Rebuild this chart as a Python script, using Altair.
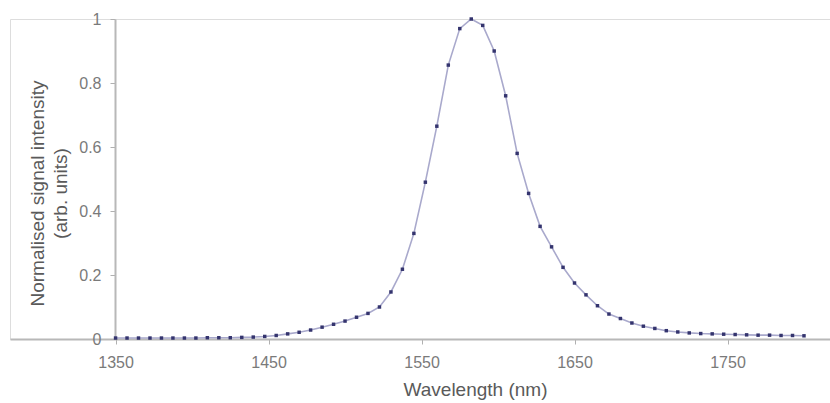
import altair as alt
import pandas as pd

wavelength = [1350, 1357.5, 1365, 1372.5, 1380, 1387.5, 1395, 1402.5, 1410, 1417.5,
              1425, 1432.5, 1440, 1447.5, 1455, 1462.5, 1470, 1477.5, 1485, 1492.5,
              1500, 1507.5, 1515, 1522.5, 1530, 1537.5, 1545, 1552.5, 1560, 1567.5,
              1575, 1582.5, 1590, 1597.5, 1605, 1612.5, 1620, 1627.5, 1635, 1642.5,
              1650, 1657.5, 1665, 1672.5, 1680, 1687.5, 1695, 1702.5, 1710, 1717.5,
              1725, 1732.5, 1740, 1747.5, 1755, 1762.5, 1770, 1777.5, 1785, 1792.5, 1800]
intensity = [0.003, 0.003, 0.003, 0.003, 0.003, 0.003, 0.003, 0.003, 0.004, 0.004,
             0.004, 0.005, 0.006, 0.008, 0.011, 0.016, 0.021, 0.028, 0.037, 0.046,
             0.056, 0.068, 0.080, 0.100, 0.147, 0.218, 0.330, 0.490, 0.665, 0.856,
             0.970, 1.000, 0.980, 0.900, 0.760, 0.580, 0.455, 0.352, 0.288, 0.224,
             0.175, 0.138, 0.104, 0.078, 0.064, 0.050, 0.040, 0.033, 0.026, 0.022,
             0.019, 0.017, 0.016, 0.015, 0.014, 0.013, 0.012, 0.012, 0.011, 0.011, 0.010]
x_ticks = [1350, 1450, 1550, 1650, 1750]
y_ticks = [0, 0.2, 0.4, 0.6, 0.8, 1]

df = pd.DataFrame({"wl": wavelength, "val": intensity})

FONT = "Liberation Sans"

x_enc = alt.X("wl:Q",
              scale=alt.Scale(domain=[1281, 1817], nice=False, zero=False),
              axis=alt.Axis(values=x_ticks, format="d", title="Wavelength (nm)",
                            grid=False, domainColor="#b8b8b8", domainWidth=2,
                            tickColor="#b0b0b0", tickSize=5, labelPadding=10,
                            labelFont=FONT, labelFontSize=16, labelColor="#7a7a7a",
                            titleFont=FONT, titleFontSize=19, titleFontWeight="normal",
                            titleColor="#5a5a5a", titleX=465, titleY=50,
                            titleBaseline="middle", titleAnchor="start", titleAlign="center"))
y_enc = alt.Y("val:Q",
              scale=alt.Scale(domain=[0, 1], nice=False),
              axis=alt.Axis(values=y_ticks, format=".1~f",
                            title=["Normalised signal intensity", "(arb. units)"],
                            grid=False, offset=-105, domainColor="#b8b8b8", domainWidth=2,
                            tickColor="#b0b0b0", tickSize=5, labelPadding=9,
                            labelFont=FONT, labelFontSize=16, labelColor="#7a7a7a",
                            titleFont=FONT, titleFontSize=19, titleFontWeight="normal",
                            titleColor="#5a5a5a", titleAngle=-90, titleX=-78, titleY=174,
                            titleBaseline="middle", titleAlign="center", titleLineHeight=23))

base = alt.Chart(df)
line = base.mark_line(color="#a9a9cc", strokeWidth=1.6).encode(x=x_enc, y=y_enc)
pts = base.mark_square(color="#34346e", size=12, opacity=1).encode(x="wl:Q", y="val:Q")

chart = alt.layer(line, pts).properties(
    width=820, height=320,
    autosize=alt.AutoSizeParams(type="none"),
    padding={"left": 10, "top": 19, "right": 0, "bottom": 64},
).configure_view(stroke=None).configure(background="white")

chart.save("out.html", embed_options={"renderer": "svg", "actions": False})
